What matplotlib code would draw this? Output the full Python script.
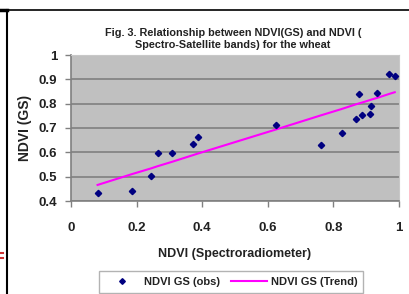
import matplotlib
matplotlib.use('Agg')
import matplotlib.pyplot as plt
from matplotlib.lines import Line2D
from matplotlib.ticker import FuncFormatter

plt.rcParams['font.family'] = ['Liberation Sans', 'DejaVu Sans']
plt.rcParams['font.weight'] = 'bold'

# NDVI from spectroradiometer vs NDVI(GS)
ndvi_spec = [0.081, 0.187, 0.244, 0.264, 0.308, 0.373, 0.387, 0.625, 0.762,
             0.825, 0.868, 0.878, 0.888, 0.912, 0.916, 0.934, 0.970, 0.987]
ndvi_gs_obs = [0.434, 0.441, 0.504, 0.598, 0.598, 0.635, 0.664, 0.714, 0.631,
               0.680, 0.736, 0.839, 0.755, 0.759, 0.792, 0.843, 0.920, 0.912]
ndvi_gs_trend = [0.466, 0.511, 0.534, 0.543, 0.561, 0.589, 0.595, 0.694, 0.752,
                 0.778, 0.797, 0.801, 0.805, 0.815, 0.817, 0.824, 0.840, 0.847]

x_ticks = [0, 0.2, 0.4, 0.6, 0.8, 1]
y_ticks = [0.4, 0.5, 0.6, 0.7, 0.8, 0.9, 1]

title = ('Fig. 3. Relationship between NDVI(GS) and NDVI (\n'
         'Spectro-Satellite bands) for the wheat')

fig = plt.figure(figsize=(4.09, 2.94), dpi=100)
fig.patch.set_facecolor('white')
ax = fig.add_axes([71/409, 93/294, 328/409, 146/294])
ax.set_facecolor('#c0c0c0')

ax.plot(ndvi_spec, ndvi_gs_obs, linestyle='none', marker='D', markersize=3.2,
        color='#000080', label='NDVI GS (obs)', zorder=3)
ax.plot(ndvi_spec, ndvi_gs_trend, color='#ff00ff', linewidth=1.5,
        label='NDVI GS (Trend)', zorder=2)

ax.set_xlim(0, 1)
ax.set_ylim(0.4, 1)
ax.set_xticks(x_ticks)
ax.set_yticks(y_ticks)
fmt = FuncFormatter(lambda v, p: '%g' % v)
ax.xaxis.set_major_formatter(fmt)
ax.yaxis.set_major_formatter(fmt)
ax.tick_params(labelsize=9.5, length=4, color='#808080', width=1)
ax.tick_params(axis='x', pad=11)
ax.tick_params(axis='y', pad=6)
for lab in ax.get_xticklabels() + ax.get_yticklabels():
    lab.set_fontweight('bold')
    lab.set_color('#222222')

ax.grid(axis='y', color='#808080', linewidth=1.2)
ax.set_axisbelow(True)
for s in ['top', 'right']:
    ax.spines[s].set_color('#c8c8c8')
    ax.spines[s].set_linewidth(0.8)
for s in ['left', 'bottom']:
    ax.spines[s].set_color('#808080')
    ax.spines[s].set_linewidth(1.2)

ax.set_xlabel('NDVI (Spectroradiometer)', fontsize=9, fontweight='bold',
              labelpad=10, color='#222222')
ax.set_ylabel('NDVI (GS)', fontsize=10, fontweight='bold', labelpad=5,
              color='#222222')

fig.text(233/409, 1 - 39/294, title, ha='center', va='center',
         multialignment='center', linespacing=1.15,
         fontsize=7.8, fontweight='bold', color='#222222')

leg = fig.legend(loc='center', bbox_to_anchor=(231/409, 1 - 282/294), ncol=2,
                 fontsize=8, frameon=True, fancybox=False, edgecolor='#a0a0a0',
                 handlelength=3.2, columnspacing=1.0, handletextpad=0.4,
                 borderpad=0.5, markerscale=0.9)
leg.get_frame().set_linewidth(1.0)
for t in leg.get_texts():
    t.set_fontweight('bold')
    t.set_color('#222222')

# page frame lines around the figure
fig.add_artist(Line2D([0, 1], [1 - 10/294, 1 - 10/294], color='black', linewidth=1.2))
fig.add_artist(Line2D([7/409, 7/409], [0, 1 - 10/294], color='black', linewidth=1.5))
fig.add_artist(Line2D([0, 7/409], [1 - 10/294, 1 - 10/294], color='black', linewidth=2.5))
fig.add_artist(Line2D([0, 3/409], [1 - 253/294, 1 - 253/294], color='#cc3333', linewidth=1.5))
fig.add_artist(Line2D([0, 3/409], [1 - 258/294, 1 - 258/294], color='#cc3333', linewidth=1.5))

fig.savefig('out.png', dpi=100)
